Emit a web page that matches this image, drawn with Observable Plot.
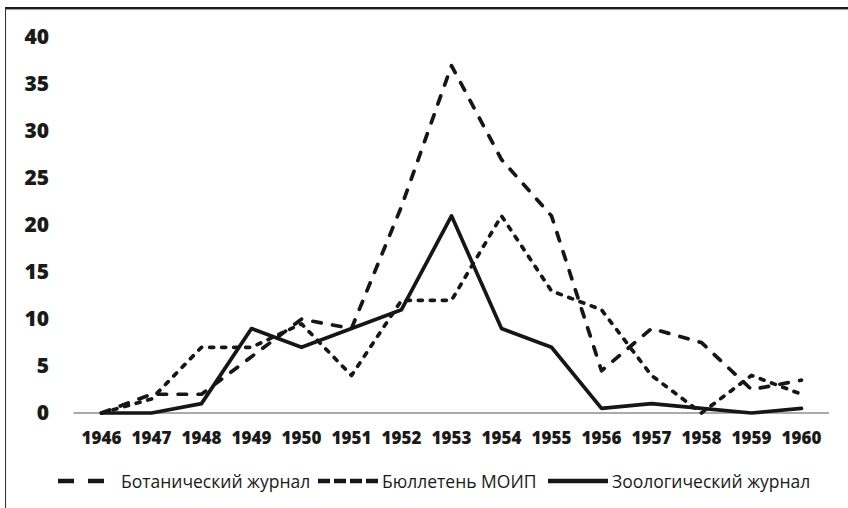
<!DOCTYPE html>
<html><head><meta charset="utf-8">
<script src="https://cdn.jsdelivr.net/npm/d3@7"></script>
<script src="https://cdn.jsdelivr.net/npm/@observablehq/plot@0.6"></script>
<style>
body{margin:0;background:#fff;font-family:"Open Sans",sans-serif;}
#wrap{position:relative;width:848px;height:508px;overflow:hidden;background:#fff;}
#frame{position:absolute;left:5px;top:7px;width:900px;height:600px;border-left:1.5px solid #333;border-top:2px solid #1a1a1a;box-shadow:inset 0 1px 1px #999;}
#chart{position:absolute;left:0;top:0;}
.lg{position:absolute;top:469px;height:24px;display:flex;align-items:center;font-size:17.5px;color:#1a1a1a;white-space:nowrap;}
.lg svg{display:block;}
</style>
</head><body>
<div id="wrap"><div id="frame"></div><div id="chart"></div><div id="legend"></div></div>
<script>
const years = ["1946","1947","1948","1949","1950","1951","1952","1953","1954","1955","1956","1957","1958","1959","1960"];
const botanical   = [0, 2, 2, 6, 10, 9, 22, 37, 27, 21, 4.5, 9, 7.5, 2.5, 3.5];
const bulletin    = [0, 1.5, 7, 7, 9.5, 4, 12, 12, 21, 13, 11, 4, 0, 4, 2];
const zoological  = [0, 0, 1, 9, 7, 9, 11, 21, 9, 7, 0.5, 1, 0.5, 0, 0.5];
const yTicks = [0, 5, 10, 15, 20, 25, 30, 35, 40];
const seriesNames = ["Ботанический журнал", "Бюллетень МОИП", "Зоологический журнал"];

const rows = (vals) => years.map((y, i) => ({year: y, value: vals[i]}));
const ink = "#161616";
const styles = [
  {strokeDasharray: "8.5,11.5", strokeLinecap: "round"},
  {strokeDasharray: "4,8", strokeLinecap: "round"},
  {strokeLinecap: "round", strokeLinejoin: "round"}
];
const seriesData = [botanical, bulletin, zoological];

const chart = Plot.plot({
  width: 848, height: 460,
  marginLeft: 73.5, marginRight: 19, marginTop: 37, marginBottom: 47.5,
  style: {fontFamily: "Open Sans, sans-serif", background: "transparent", color: "#1a1a1a"},
  x: {type: "point", domain: years, padding: 0.5, label: null},
  y: {domain: [0, 40], label: null},
  marks: [
    Plot.ruleY([0], {stroke: "#aaa", strokeWidth: 2}),
    Plot.axisY(yTicks, {tickSize: 0, tickPadding: 25, fontSize: 21, fontWeight: 800, fill: "#1a1a1a"}),
    Plot.axisX({tickSize: 0, tickPadding: 19, fontSize: 17, fontWeight: 800, fill: "#1a1a1a"}),
    ...seriesData.map((vals, i) => Plot.line(rows(vals), {x: "year", y: "value", stroke: ink, strokeWidth: 3.7, ...styles[i]}))
  ]
});
document.getElementById("chart").appendChild(chart);

// Legend
const legendLayout = [
  {left: 58, sw: 48, gap: 15},
  {left: 318, sw: 62, gap: 2},
  {left: 548, sw: 60, gap: 4}
];
const legend = document.getElementById("legend");
legendLayout.forEach((L, i) => {
  const div = document.createElement("div");
  div.className = "lg";
  div.style.left = L.left + "px";
  const dash = i === 0 ? "16,14" : (i === 1 ? "12,4" : null);
  div.innerHTML = `<svg width="${L.sw}" height="10"><line x1="0" x2="${L.sw}" y1="5" y2="5" stroke="${ink}" stroke-width="4.5" ${dash ? `stroke-dasharray="${dash}"` : ""}/></svg><span style="margin-left:${L.gap}px">${seriesNames[i]}</span>`;
  legend.appendChild(div);
});
</script>
</body></html>
